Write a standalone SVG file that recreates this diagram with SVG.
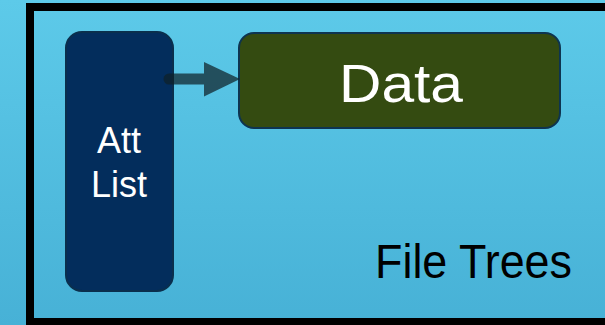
<svg xmlns="http://www.w3.org/2000/svg" width="605" height="325" viewBox="0 0 605 325">
<defs>
<linearGradient id="bg" x1="0" y1="0" x2="0" y2="1">
<stop offset="0" stop-color="#5dcae9"/>
<stop offset="1" stop-color="#47b1d6"/>
</linearGradient>
<style>
.lbl{font-family:"Liberation Sans",Arial,sans-serif;fill:#ffffff;text-anchor:middle}
.node{stroke-width:2}
.conn{fill:#0f2128;fill-opacity:0.72}
</style>
</defs>
<rect x="0" y="0" width="605" height="325" fill="url(#bg)"/>
<rect id="frame" x="30" y="7" width="600" height="315" fill="none" stroke="#000000" stroke-width="8"/>
<g id="attlist">
<rect class="node" x="66" y="32" width="107" height="259" rx="16" fill="#032d5c" stroke="#0a2f4d"/>
<text class="lbl" x="119" y="153" font-size="36">Att</text>
<text class="lbl" x="119" y="197" font-size="36">List</text>
</g>
<g id="data">
<rect class="node" x="239" y="33" width="321" height="95" rx="15" fill="#344b11" stroke="#0d3450" stroke-width="2.5"/>
<text class="lbl" x="401" y="102" font-size="54" textLength="124" lengthAdjust="spacingAndGlyphs">Data</text>
</g>
<g id="connectors">
<path class="conn" d="M204,73.5 L204,62 L240,79 L204,96.5 L204,84.5 L169,84.5 A5.5,5.5 0 0 1 169,73.5 Z"/>
</g>
<text id="title" x="375" y="278" font-family="'Liberation Sans',Arial,sans-serif" font-size="48" fill="#000000" textLength="197" lengthAdjust="spacingAndGlyphs">File Trees</text>
</svg>
